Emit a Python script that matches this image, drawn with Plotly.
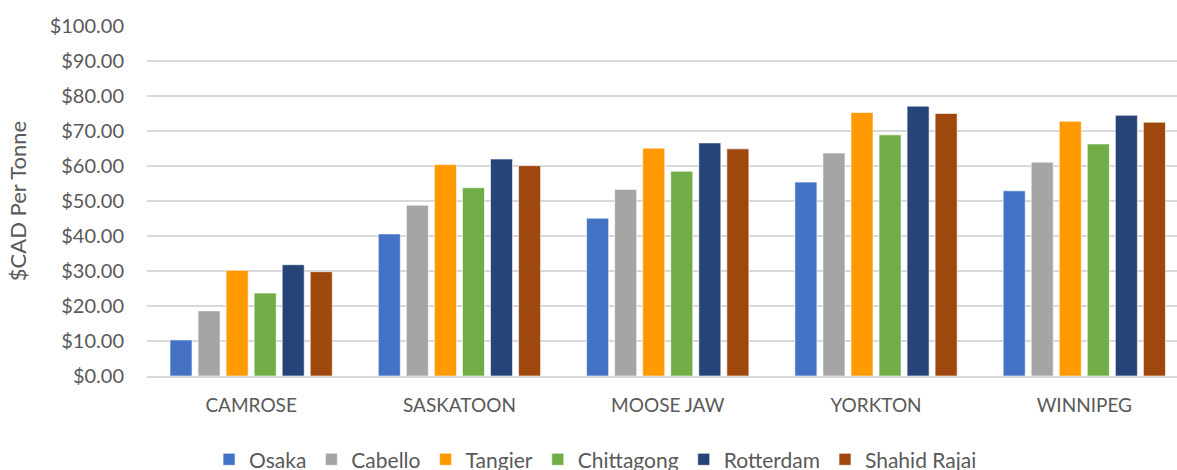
import plotly.graph_objects as go

# Freight cost per tonne from each origin to each destination port
origins = ["CAMROSE", "SASKATOON", "MOOSE JAW", "YORKTON", "WINNIPEG"]
osaka = [10.3, 40.6, 45.1, 55.4, 52.9]
cabello = [18.6, 48.8, 53.3, 63.7, 61.1]
tangier = [30.2, 60.4, 65.1, 75.3, 72.8]
chittagong = [23.7, 53.8, 58.5, 68.9, 66.3]
rotterdam = [31.8, 62.0, 66.6, 77.1, 74.5]
shahid_rajai = [29.8, 60.1, 64.9, 75.0, 72.5]

series = [
    ("Osaka", osaka, "#4472C4"),
    ("Cabello", cabello, "#A5A5A5"),
    ("Tangier", tangier, "#FF9900"),
    ("Chittagong", chittagong, "#70AD47"),
    ("Rotterdam", rotterdam, "#264478"),
    ("Shahid Rajai", shahid_rajai, "#9E480E"),
]

y_ticks = list(range(0, 101, 10))
y_tick_text = [f"${v:.2f}" for v in y_ticks]

FONT = "Lato"
GREY = "#595959"

fig = go.Figure()
for name, vals, color in series:
    fig.add_trace(go.Bar(
        x=origins, y=vals, name=name,
        marker=dict(color=color, line=dict(color="rgba(255,255,255,0.6)", width=1)),
    ))

fig.update_layout(
    width=1177, height=470,
    margin=dict(l=147, r=0, t=26, b=94),
    paper_bgcolor="white", plot_bgcolor="white",
    barmode="group", bargap=0.192, bargroupgap=0.214,
    font=dict(family=FONT, color=GREY, size=19),
    legend=dict(
        orientation="h", xref="container", x=0.506, xanchor="center",
        yref="container", y=0.022, yanchor="middle",
        font=dict(size=21, color=GREY), itemwidth=30,
    ),
    xaxis=dict(
        range=[-0.5, 4.445], showgrid=False, showline=True,
        linecolor="#D9D9D9", linewidth=1.5, ticks="",
        tickfont=dict(size=19, color=GREY), ticklabelstandoff=11,
    ),
    yaxis=dict(
        range=[0, 100], tickvals=y_ticks, ticktext=y_tick_text,
        showgrid=True, gridcolor="#D9D9D9", gridwidth=1.5,
        zeroline=False, ticks="", ticklabelstandoff=22,
        tickfont=dict(size=20, color=GREY),
        title=dict(text="$CAD Per Tonne", font=dict(size=22, color=GREY), standoff=16),
    ),
)

fig.write_html("out.html")
